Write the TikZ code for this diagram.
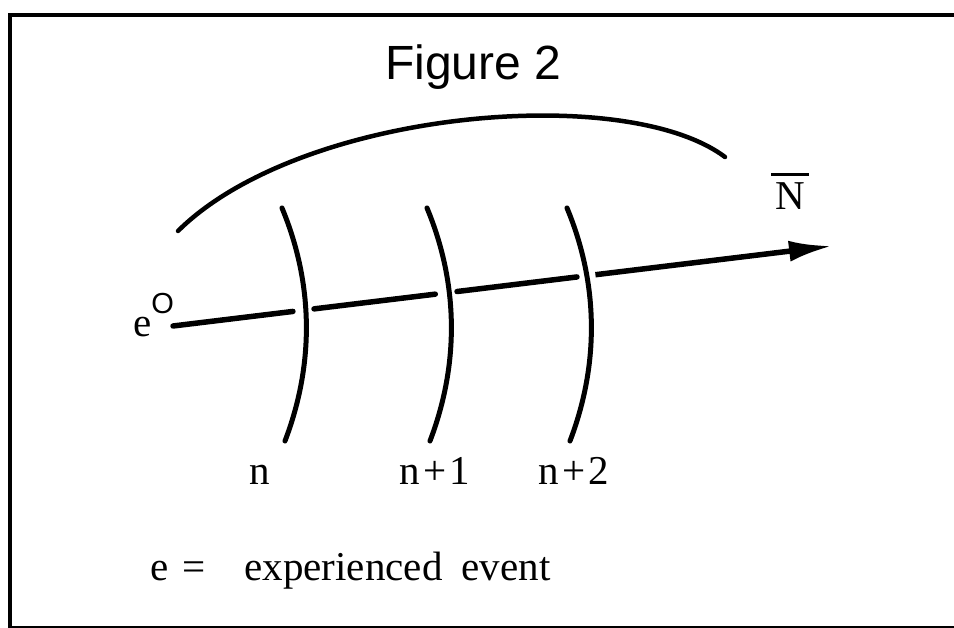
\documentclass[tikz,border=0pt]{standalone}
\usepackage{fontspec}
\setmainfont{Liberation Serif}
\newfontfamily\sanstitre{Liberation Sans}
\usetikzlibrary{arrows.meta, calc}

\begin{document}
\begin{tikzpicture}[x=1pt, y=-1pt,
  trait/.style={line width=5pt, line cap=round},
  etiq/.style={inner sep=0pt, anchor=base west,
               font=\fontsize{41}{48}\selectfont}
]
  \useasboundingbox (0,0) rectangle (954,628);

  %=========================================================
  % 1. Cadre et titre
  %=========================================================
  \draw[line width=4pt] (960,15) -- (10,15) -- (10,632);
  \draw[line width=2pt] (10,627) -- (960,627);

  \node[inner sep=0pt, anchor=base west,
        font=\sanstitre\fontsize{48}{56}\selectfont] (titre) at (385,80)
    {Figure 2};

  %=========================================================
  % 2. Axe e^o -> N, coupe par les arcs
  %=========================================================
  \node[etiq] (e0) at (133,337)
    {e\raisebox{23pt}{\sanstitre\fontsize{29}{32}\selectfont O}};
  \coordinate (dep) at (173,326);
  \coordinate (pointe) at (832,246);

  \foreach \a/\b in {0/0.182, 0.214/0.398, 0.431/0.613}
    \draw[trait, line width=5.5pt] ($(dep)!\a!(pointe)$) -- ($(dep)!\b!(pointe)$);
  \draw[trait, line width=5.5pt, line cap=butt, -{Latex[length=43pt, width=21pt]}]
    ($(dep)!0.641!(pointe)$) -- (pointe);

  \node[inner sep=0pt, anchor=base,
        font=\fontsize{41}{48}\selectfont] (nbarre) at (790,210)
    {\vbox{\hrule height 3pt\kern 7pt\hbox to 38pt{\hss N\hss}}};

  % --- grand arc au-dessus ---
  \draw[trait, line width=4.5pt] (178,231) .. controls (300,110) and (625,82) .. (725,157);

  %=========================================================
  % 3. Arcs n, n+1, n+2 et etiquettes
  %=========================================================
  \foreach \x in {282, 427, 567}
    \draw[trait] (\x,208) .. controls (\x+32,285) and (\x+32,365) .. (\x+3,441);

  \node[etiq, anchor=base] (n0) at (260,485) {n};
  \node[etiq, anchor=base] (n1) at (435,485) {n\kern3pt+\kern3pt1};
  \node[etiq, anchor=base] (n2) at (574,485) {n\kern3pt+\kern3pt2};

  % --- legende ---
  \node[etiq] (legende) at (150,580)
    {e\hspace{14pt}=\hspace{39pt}experienced\hspace{19pt}event};

\end{tikzpicture}
\end{document}
